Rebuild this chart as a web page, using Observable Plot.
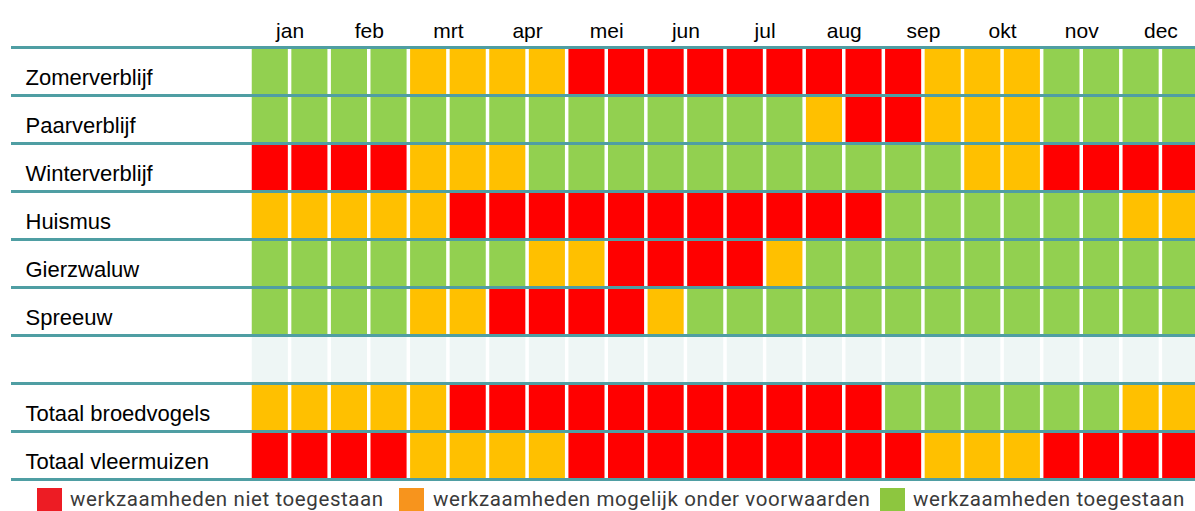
<!DOCTYPE html>
<html><head><meta charset="utf-8">
<script src="https://cdn.jsdelivr.net/npm/d3@7"></script>
<script src="https://cdn.jsdelivr.net/npm/@observablehq/plot@0.6"></script>
<style>
body{margin:0;background:#fff;}
#legend{position:relative;width:1195px;height:28px;font-family:Roboto,"Noto Sans",sans-serif;font-size:20.5px;letter-spacing:0.6px;color:#3a3a3a;overflow:hidden;}
#legend .sw{position:absolute;top:5px;width:25px;height:25px;}
#legend .lt{position:absolute;top:2px;line-height:28px;white-space:nowrap;}
</style>
</head><body>
<div id="chart"></div>
<div id="legend"></div>
<script>
const months = ["jan","feb","mrt","apr","mei","jun","jul","aug","sep","okt","nov","dec"];
const rows = ["Zomerverblijf","Paarverblijf","Winterverblijf","Huismus","Gierzwaluw","Spreeuw","","Totaal broedvogels","Totaal vleermuizen"];
// R = niet toegestaan, O = onder voorwaarden, G = toegestaan, E = leeg
const zomerverblijf     = ["G","G","G","G","O","O","O","O","R","R","R","R","R","R","R","R","R","O","O","O","G","G","G","G"];
const paarverblijf      = ["G","G","G","G","G","G","G","G","G","G","G","G","G","G","O","R","R","O","O","O","G","G","G","G"];
const winterverblijf    = ["R","R","R","R","O","O","O","G","G","G","G","G","G","G","G","G","G","G","O","O","R","R","R","R"];
const huismus           = ["O","O","O","O","O","R","R","R","R","R","R","R","R","R","R","R","G","G","G","G","G","G","O","O"];
const gierzwaluw        = ["G","G","G","G","G","G","G","O","O","R","R","R","R","O","G","G","G","G","G","G","G","G","G","G"];
const spreeuw           = ["G","G","G","G","O","O","R","R","R","R","O","G","G","G","G","G","G","G","G","G","G","G","G","G"];
const leeg              = ["E","E","E","E","E","E","E","E","E","E","E","E","E","E","E","E","E","E","E","E","E","E","E","E"];
const totaalBroedvogels = ["O","O","O","O","O","R","R","R","R","R","R","R","R","R","R","R","G","G","G","G","G","G","O","O"];
const totaalVleermuizen = ["R","R","R","R","O","O","O","O","R","R","R","R","R","R","R","R","R","O","O","O","R","R","R","R"];
const statusKeys   = ["R","O","G","E"];
const statusColors = ["#ff0000","#ffc000","#92d050","#eef6f5"];
const legendLabels = ["werkzaamheden niet toegestaan","werkzaamheden mogelijk onder voorwaarden","werkzaamheden toegestaan"];
const legendColors = ["#ed1c24","#f7941d","#8dc63f"];

const series = [zomerverblijf,paarverblijf,winterverblijf,huismus,gierzwaluw,spreeuw,leeg,totaalBroedvogels,totaalVleermuizen];
const data = [];
series.forEach((s, i) => s.forEach((v, j) => data.push({row: i, col: j, status: v})));

const chart = Plot.plot({
  width: 1195, height: 483,
  marginTop: 47, marginBottom: 4, marginLeft: 11, marginRight: 0,
  style: {fontFamily: "'Liberation Sans', Arial, sans-serif", background: "#fff"},
  x: {domain: [0, 24], range: [250, 1200], axis: null},
  y: {domain: [0, rows.length], reverse: true, axis: null},
  color: {domain: statusKeys, range: statusColors},
  marks: [
    Plot.rect(data, {x1: "col", x2: d => d.col + 1, y1: "row", y2: d => d.row + 1, fill: "status", insetLeft: 1.75, insetRight: 1.75}),
    Plot.ruleY(d3.range(rows.length + 1), {stroke: "#4f9ea3", strokeWidth: 3}),
    Plot.text(months, {x: (d, i) => 2 * i + 1, text: d => d, frameAnchor: "top", lineAnchor: "bottom", dy: -9.5, fontSize: 21, fill: "#000"}),
    Plot.text(rows, {y: (d, i) => i + 0.5, text: d => d, frameAnchor: "left", textAnchor: "start", lineAnchor: "bottom", dx: 14, dy: 13.5, fontSize: 22, fill: "#000"})
  ]
});
document.getElementById("chart").appendChild(chart);

const legendX = [[37, 70], [399, 433], [880, 913]];
const legend = document.getElementById("legend");
legendLabels.forEach((l, i) => {
  const sw = document.createElement("div");
  sw.className = "sw"; sw.style.left = legendX[i][0] + "px"; sw.style.background = legendColors[i];
  const t = document.createElement("div");
  t.className = "lt"; t.style.left = legendX[i][1] + "px"; t.textContent = l;
  legend.appendChild(sw); legend.appendChild(t);
});
</script>
</body></html>
